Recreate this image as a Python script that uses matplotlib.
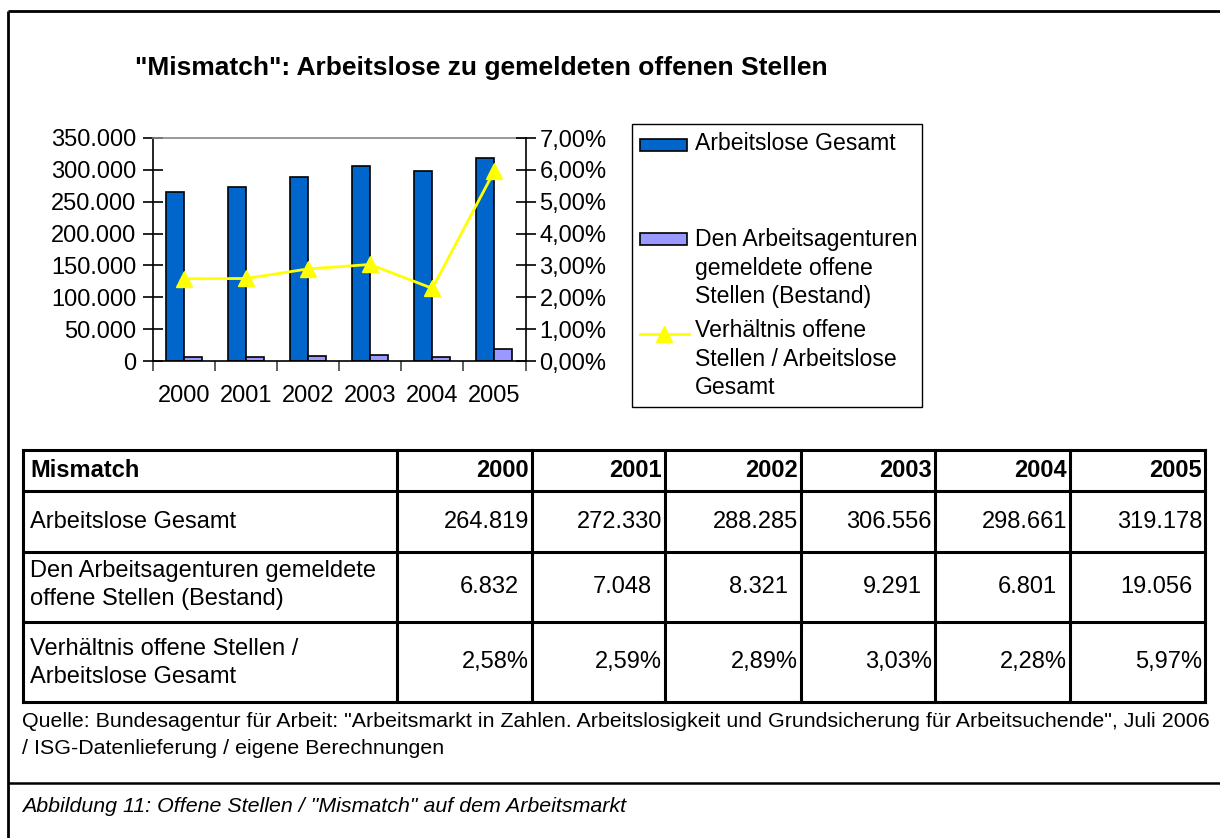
import matplotlib
matplotlib.use("Agg")
import matplotlib.pyplot as plt
from matplotlib.patches import Rectangle
from matplotlib.ticker import FixedLocator, FuncFormatter

plt.rcParams['font.family'] = ['Liberation Sans', 'DejaVu Sans']

# ---------------- data ----------------
years = ["2000", "2001", "2002", "2003", "2004", "2005"]
arbeitslose = [264819, 272330, 288285, 306556, 298661, 319178]
offene_stellen = [6832, 7048, 8321, 9291, 6801, 19056]
verhaeltnis = [2.58, 2.59, 2.89, 3.03, 2.28, 5.97]  # percent

series_names = ["Arbeitslose Gesamt",
                "Den Arbeitsagenturen\ngemeldete offene\nStellen (Bestand)",
                "Verhältnis offene\nStellen / Arbeitslose\nGesamt"]
row_labels = ["Arbeitslose Gesamt",
              "Den Arbeitsagenturen gemeldete\noffene Stellen (Bestand)",
              "Verhältnis offene Stellen /\nArbeitslose Gesamt"]
title = '"Mismatch": Arbeitslose zu gemeldeten offenen Stellen'
table_header = "Mismatch"
source = ('Quelle: Bundesagentur für Arbeit: "Arbeitsmarkt in Zahlen. Arbeitslosigkeit und '
          'Grundsicherung für Arbeitsuchende", Juli 2006\n/ ISG-Datenlieferung / eigene Berechnungen')
caption = 'Abbildung 11: Offene Stellen / "Mismatch" auf dem Arbeitsmarkt'

BLUE = "#0066CC"
PURPLE = "#9999FF"
YELLOW = "#FFFF00"
FS = 17
FS_LEG = 16.6

W, H = 1220, 838
fig = plt.figure(figsize=(W / 100, H / 100), dpi=100)


def fmt_int(v):
    return f"{v:,}".replace(",", ".")


def fmt_pct(v):
    return f"{v:.2f}".replace(".", ",") + "%"


# ---------------- chart ----------------
L, R, T, B = 152.7, 525.5, 138, 361
ax = fig.add_axes([L / W, 1 - B / H, (R - L) / W, (B - T) / H])
x = list(range(len(years)))
bw = 0.29
ax.bar([i - 0.145 for i in x], arbeitslose, width=bw, color=BLUE,
       edgecolor="black", linewidth=1.2, zorder=2)
ax.bar([i + 0.145 for i in x], offene_stellen, width=bw, color=PURPLE,
       edgecolor="black", linewidth=1.2, zorder=2)
ax.set_xlim(-0.5, len(years) - 0.5)
ax.set_ylim(0, 350000)
ax.yaxis.set_major_locator(FixedLocator([i * 50000 for i in range(8)]))
ax.yaxis.set_major_formatter(FuncFormatter(lambda v, p: fmt_int(int(round(v)))))
ax.xaxis.set_major_locator(FixedLocator([i - 0.5 for i in range(len(years) + 1)]))
ax.xaxis.set_major_formatter(FuncFormatter(lambda v, p: ""))
ax.xaxis.set_minor_locator(FixedLocator(x))
ax.set_xticklabels(years, minor=True)
ax.tick_params(axis="x", which="major", direction="out", length=7, width=1.2, color="#444444")
ax.tick_params(axis="x", which="minor", length=0, pad=17, labelsize=FS)
ax.tick_params(axis="y", direction="inout", length=14, width=1.2, pad=5, labelsize=FS)
for s in ["left", "bottom"]:
    ax.spines[s].set_linewidth(1.2)
    ax.spines[s].set_color("black")
ax.spines["top"].set_color("#888888")
ax.spines["top"].set_linewidth(1.2)
ax.spines["right"].set_visible(False)

ax2 = ax.twinx()
ax2.plot(x, [v / 100 for v in verhaeltnis], color=YELLOW, linewidth=2,
         marker="^", markersize=12, markerfacecolor=YELLOW, markeredgecolor=YELLOW, zorder=3)
ax2.set_ylim(0, 0.07)
ax2.yaxis.set_major_locator(FixedLocator([i / 100 for i in range(8)]))
ax2.yaxis.set_major_formatter(FuncFormatter(lambda v, p: fmt_pct(v * 100)))
ax2.tick_params(axis="y", direction="inout", length=14, width=1.2, pad=3, labelsize=FS)
ax2.spines["right"].set_linewidth(1.2)
ax2.spines["right"].set_color("black")
for s in ["left", "top", "bottom"]:
    ax2.spines[s].set_visible(False)

# ---------------- overlay (pixel coordinates) ----------------
ov = fig.add_axes([0, 0, 1, 1], zorder=5)
ov.set_xlim(0, W)
ov.set_ylim(H, 0)
ov.axis("off")
ov.patch.set_alpha(0)

# outer frame
ov.plot([8, 8], [11, H], color="black", lw=2.0, solid_capstyle="butt")
ov.plot([8, W], [11, 11], color="black", lw=2.0, solid_capstyle="butt")
ov.plot([8, W], [783, 783], color="black", lw=1.8, solid_capstyle="butt")

# title
ov.text(481, 68, title, ha="center", va="center", fontsize=19, fontweight="bold")

# legend
ov.add_patch(Rectangle((632, 124), 290, 283, fill=False, edgecolor="black", lw=1.0))
ov.add_patch(Rectangle((640, 139), 47, 12, facecolor=BLUE, edgecolor="black", lw=1.2))
ov.text(695, 143, series_names[0], ha="left", va="center", fontsize=FS_LEG)
ov.add_patch(Rectangle((640, 233), 47, 12, facecolor=PURPLE, edgecolor="black", lw=1.2))
ov.text(695, 268, series_names[1], ha="left", va="center", fontsize=FS_LEG, linespacing=1.3)
ov.plot([640, 689], [334, 334], color=YELLOW, lw=2)
ov.plot([664], [334], marker="^", markersize=12, color=YELLOW)
ov.text(695, 359, series_names[2], ha="left", va="center", fontsize=FS_LEG, linespacing=1.33)

# table
col_x = [23, 397, 532, 665, 801, 935, 1070, 1205]
row_y = [450, 491, 552, 622, 702]
lw_t = 2.2
for cx in col_x:
    ov.plot([cx, cx], [row_y[0], row_y[-1]], color="black", lw=lw_t, solid_capstyle="projecting")
for ry in row_y:
    ov.plot([col_x[0], col_x[-1]], [ry, ry], color="black", lw=lw_t, solid_capstyle="projecting")

hy = (row_y[0] + row_y[1]) / 2
ov.text(30, hy, table_header, ha="left", va="center", fontsize=FS, fontweight="bold")
for j, yr in enumerate(years):
    ov.text(col_x[j + 2] - 3, hy, yr, ha="right", va="center", fontsize=FS, fontweight="bold")

label_y = [521.5, 585, 663]
value_y = [521.5, 587, 662]
pads = [3, 13, 3]
rows_vals = [[fmt_int(v) for v in arbeitslose],
             [fmt_int(v) for v in offene_stellen],
             [fmt_pct(v) for v in verhaeltnis]]
for r in range(3):
    ov.text(30, label_y[r], row_labels[r], ha="left", va="center", fontsize=FS, linespacing=1.38)
    for j, s in enumerate(rows_vals[r]):
        ov.text(col_x[j + 2] - pads[r], value_y[r], s, ha="right", va="center", fontsize=FS)

# source and caption
ov.text(22, 735, source, ha="left", va="center", fontsize=15.4, linespacing=1.47)
ov.text(22, 806, caption, ha="left", va="center", fontsize=15.4, style="italic")

fig.savefig("out.png", dpi=100)
